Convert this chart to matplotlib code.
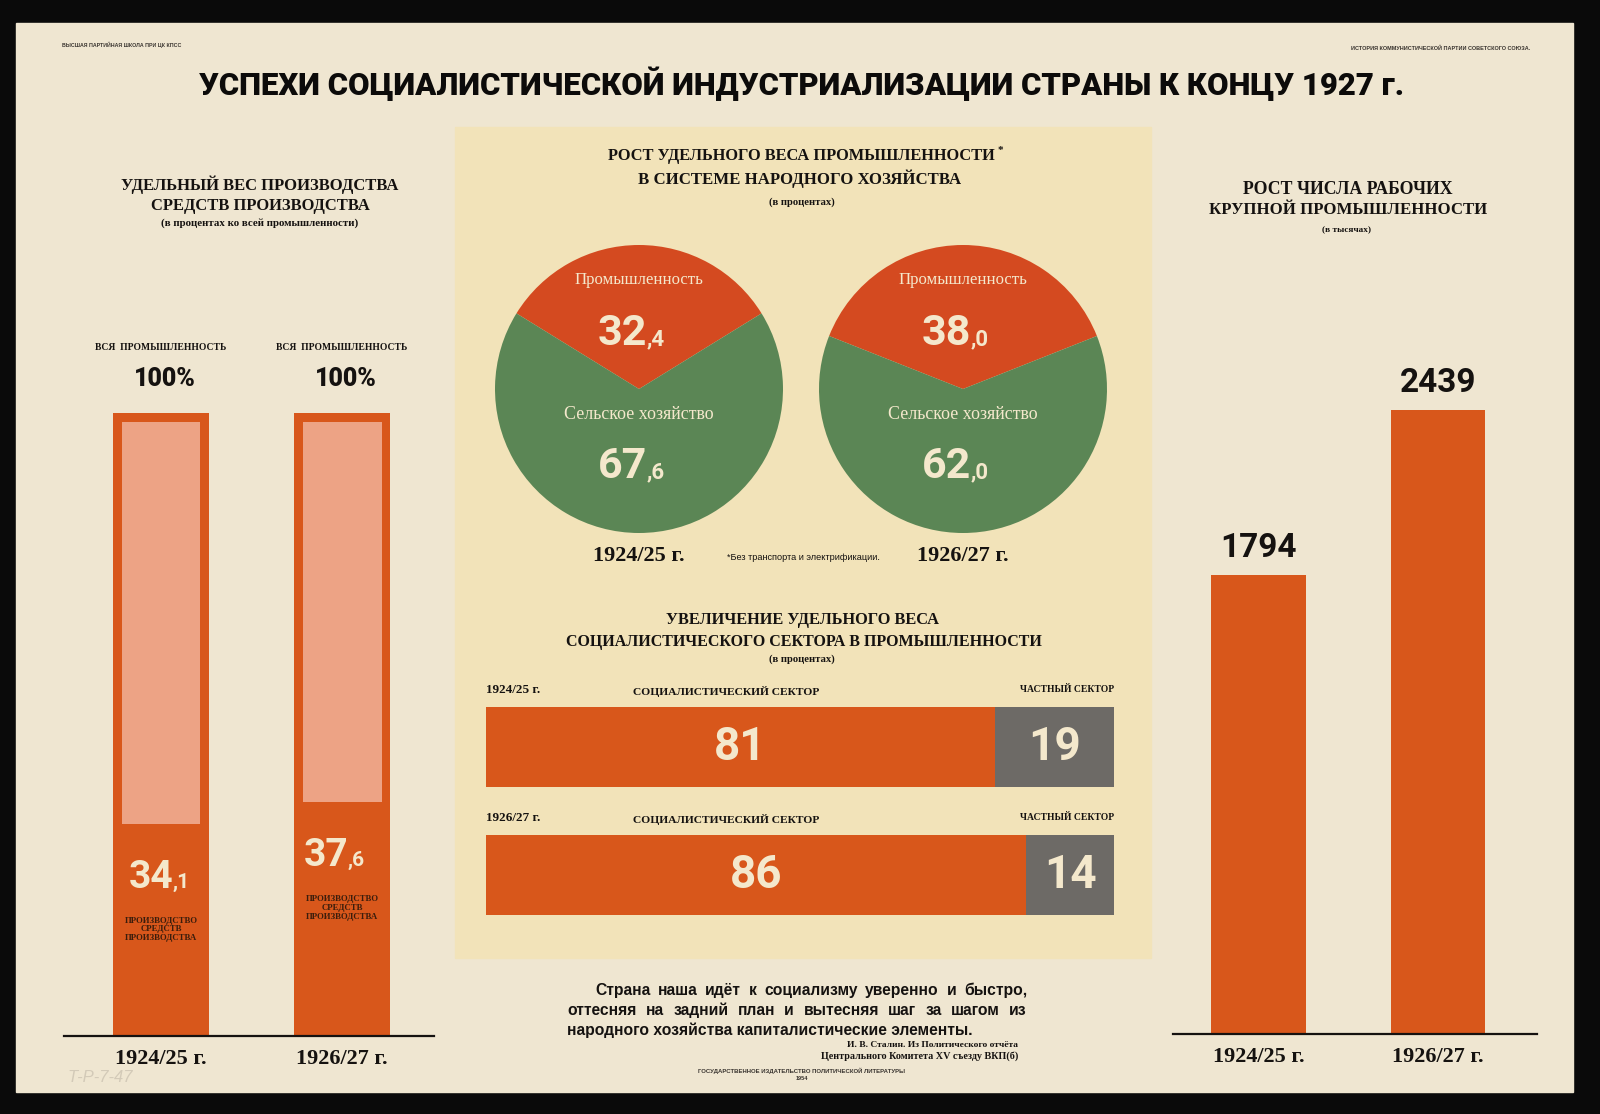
import matplotlib
matplotlib.use("Agg")
import matplotlib.pyplot as plt
from matplotlib.patches import Rectangle
from matplotlib.transforms import offset_copy

W, H = 1600, 1114

years = ["1924/25 г.", "1926/27 г."]
all_industry = [100, 100]              # вся промышленность, %
means_of_production = [34.1, 37.6]     # производство средств производства, %
industry_share = [32.4, 38.0]          # промышленность, %
agriculture_share = [67.6, 62.0]       # сельское хозяйство, %
socialist_sector = [81, 86]            # %
private_sector = [19, 14]              # %
workers = [1794, 2439]                 # тыс. рабочих

quote = ["Страна наша идёт к социализму уверенно и быстро,",
         "оттесняя на задний план и вытесняя шаг за шагом из",
         "народного хозяйства капиталистические элементы."]

PAPER = "#efe6d1"
PANEL = "#f2e3b9"
ORANGE = "#d8571b"
LIGHT = "#eda385"
RED = "#d44a20"
GREEN = "#5b8655"
GRAY = "#6d6a66"
CREAM = "#f4e8cc"
INK = "#151210"

COND = ["Roboto", "DejaVu Sans"]
SERIF = ["Liberation Serif", "DejaVu Serif"]
SANS = ["Liberation Sans", "DejaVu Sans"]

fig = plt.figure(figsize=(W / 100, H / 100), dpi=100, facecolor="#0a0a0a")
renderer = fig.canvas.get_renderer()


def px_axes(x0, y0, x1, y1):
    ax = fig.add_axes([x0 / W, 1 - y1 / H, (x1 - x0) / W, (y1 - y0) / H])
    ax.set_facecolor("none")
    return ax


def txt(ax, x, y, s, size, width=None, family=SERIF, weight="bold", color=INK,
        ha="center", va="center", **kw):
    t = ax.text(x, y, s, fontsize=size, family=family, weight=weight, color=color,
                ha=ha, va=va, **kw)
    if width:
        w = t.get_window_extent(renderer).width
        t.set_fontsize(size * width / w)
    return t


def justified(ax, x0, x1, y, line, size, **kw):
    """lay the words of one line out edge to edge between x0 and x1 (pixels), on a baseline."""
    words = [txt(ax, 0, y, w, size, ha="left", va="baseline", **kw) for w in line.split()]
    widths = [w.get_window_extent(renderer).width for w in words]
    gap = (x1 - x0 - sum(widths)) / (len(words) - 1)
    x = x0
    for w, wd in zip(words, widths):
        w.set_x(x)
        x += wd + gap


def decimal_label(ax, x, y, value, big, small, dx, color):
    """big whole part + small ',d' tail, split point shifted dx pixels right of x."""
    whole, frac = f"{value:.1f}".split(".")
    tr = offset_copy(ax.transData, fig=fig, x=dx, y=0, units="dots")
    ax.text(x, y, whole, transform=tr, ha="right", va="baseline", fontsize=big,
            family=COND, weight="bold", color=color, clip_on=False)
    ax.text(x, y, "," + frac, transform=tr, ha="left", va="baseline", fontsize=small,
            family=COND, weight="bold", color=color, clip_on=False)


# ---- background: paper + centre panel ----
bg = px_axes(0, 0, W, H)
bg.set_xlim(0, W); bg.set_ylim(H, 0); bg.axis("off")
bg.add_patch(Rectangle((16, 23), 1557, 1069, color=PAPER, zorder=0))
bg.add_patch(Rectangle((455, 127), 696, 831, color=PANEL, zorder=0.5))

txt(bg, 62, 45, "ВЫСШАЯ ПАРТИЙНАЯ ШКОЛА ПРИ ЦК КПСС", 5, width=120, family=SANS, ha="left",
    color="#3a3530")
txt(bg, 1530, 48, "ИСТОРИЯ КОММУНИСТИЧЕСКОЙ ПАРТИИ СОВЕТСКОГО СОЮЗА.", 5, width=182,
    family=SANS, ha="right", color="#3a3530")
txt(bg, 802, 84, "УСПЕХИ СОЦИАЛИСТИЧЕСКОЙ ИНДУСТРИАЛИЗАЦИИ СТРАНЫ К КОНЦУ 1927 г.", 40,
    width=1203, family=COND, weight="black", color="#0c0b0a")

# left block titles
txt(bg, 260, 185, "УДЕЛЬНЫЙ ВЕС ПРОИЗВОДСТВА", 14, width=280)
txt(bg, 260, 206, "СРЕДСТВ ПРОИЗВОДСТВА", 14, width=220)
txt(bg, 260, 223, "(в процентах ко всей промышленности)", 8, width=197)

# centre titles
txt(bg, 801, 156, "РОСТ УДЕЛЬНОГО ВЕСА ПРОМЫШЛЕННОСТИ", 14, width=389)
txt(bg, 1000, 150, "*", 8)
txt(bg, 800, 179, "В СИСТЕМЕ НАРОДНОГО ХОЗЯЙСТВА", 14, width=323)
txt(bg, 802, 202, "(в процентах)", 7, width=66)
txt(bg, 803, 558, "*Без транспорта и электрификации.", 6, width=154, family=SANS,
    weight="normal")
txt(bg, 802, 620, "УВЕЛИЧЕНИЕ УДЕЛЬНОГО ВЕСА", 14, width=276)
txt(bg, 804, 642, "СОЦИАЛИСТИЧЕСКОГО СЕКТОРА В ПРОМЫШЛЕННОСТИ", 14, width=480)
txt(bg, 802, 659, "(в процентах)", 7, width=66)

# right block titles
txt(bg, 1348, 190, "РОСТ ЧИСЛА РАБОЧИХ", 14, width=210)
txt(bg, 1348, 210, "КРУПНОЙ ПРОМЫШЛЕННОСТИ", 14, width=278)
txt(bg, 1347, 230, "(в тысячах)", 6, width=49)

# quote (justified like the print)
q = txt(bg, 567, 1035, quote[2], 12, width=403, family=SANS, ha="left", va="baseline")
qs = q.get_fontsize()
justified(bg, 595, 1027, 995, quote[0], qs, family=SANS)
justified(bg, 567, 1027, 1015, quote[1], qs, family=SANS)
txt(bg, 1018, 1045, "И. В. Сталин. Из Политического отчёта", 7, width=173, ha="right")
txt(bg, 1018, 1056, "Центрального Комитета XV съезду ВКП(б)", 7, width=200, ha="right")
txt(bg, 802, 1071, "ГОСУДАРСТВЕННОЕ ИЗДАТЕЛЬСТВО ПОЛИТИЧЕСКОЙ ЛИТЕРАТУРЫ", 4, width=205,
    family=SANS, color="#3a3530")
txt(bg, 802, 1078, "1954", 4, family=SANS, color="#3a3530")
txt(bg, 100, 1077, "Т-Р-7-47", 12, family=SANS, weight="normal", color="#d3cab8",
    style="italic")

# ---- left: share of means of production ----
lb = px_axes(64, 413, 434, 1036)
lb.set_xlim(-0.536, 1.508); lb.set_ylim(0, 100)
lb.bar([0, 1], all_industry, width=0.53, color=ORANGE)
lb.bar([0, 1], [a - m - 1.4 for a, m in zip(all_industry, means_of_production)],
       bottom=means_of_production, width=0.436, color=LIGHT)
for side in ("left", "right", "top"):
    lb.spines[side].set_visible(False)
lb.spines["bottom"].set_color(INK); lb.spines["bottom"].set_linewidth(1.6)
lb.set_yticks([])
lb.set_xticks([0, 1], years, fontsize=16, family=SERIF, weight="bold", color=INK)
lb.tick_params(axis="x", length=0, pad=9)
for i, v in enumerate(means_of_production):
    decimal_label(lb, i, v - 10.3, v, 28, 15, [12, 6][i], CREAM)
    lb.text(i, v - 17, "ПРОИЗВОДСТВО\nСРЕДСТВ\nПРОИЗВОДСТВА", fontsize=6.3, family=SERIF,
            weight="bold", color="#3b1d0c", ha="center", va="center", linespacing=1.15)
    txt(lb, i, 110.5, "ВСЯ  ПРОМЫШЛЕННОСТЬ", 8, width=131, clip_on=False)
    lb.text(i + 0.02, 105.5, f"{all_industry[i]}%", fontsize=18, family=COND, weight="black",
            color=INK, ha="center", va="center", clip_on=False)

# ---- centre: pies ----
for i, cx in enumerate([639, 963]):
    pa = px_axes(cx - 144, 389 - 144, cx + 144, 389 + 144)
    pa.pie([industry_share[i], agriculture_share[i]], colors=[RED, GREEN],
           startangle=90 - industry_share[i] * 1.8, radius=1,
           wedgeprops=dict(linewidth=0))
    pa.set_xlim(-1, 1); pa.set_ylim(-1, 1); pa.axis("off")
    txt(pa, 0, 0.757, "Промышленность", 12, width=128, weight="normal", color=CREAM)
    txt(pa, 0, -0.174, "Сельское хозяйство", 12, width=150, weight="normal", color=CREAM)
    decimal_label(pa, 0, 0.306, industry_share[i], 31, 16, 8, CREAM)
    decimal_label(pa, 0, -0.618, agriculture_share[i], 31, 16, 8, CREAM)
    txt(pa, 0, -1.16, years[i], 16)

# ---- centre: socialist vs private sector ----
hb = px_axes(486, 707, 1114, 915)
hb.set_xlim(0, 100); hb.set_ylim(1.309, -0.316); hb.axis("off")
soc = hb.barh([0, 1], socialist_sector, height=0.625, color=ORANGE)
prv = hb.barh([0, 1], private_sector, left=socialist_sector, height=0.625, color=GRAY)
for bars in (soc, prv):
    hb.bar_label(bars, label_type="center", fontsize=33, family=COND, weight="bold",
                 color=CREAM)
for r in range(2):
    txt(hb, 0, r - 0.45, years[r], 10, width=54, ha="left", clip_on=False)
    txt(hb, 38.2, r - 0.44, "СОЦИАЛИСТИЧЕСКИЙ СЕКТОР", 7, width=188, clip_on=False)
    txt(hb, 100, r - 0.45, "ЧАСТНЫЙ СЕКТОР", 7, width=95, ha="right", clip_on=False)

# ---- right: number of workers ----
rb = px_axes(1173, 369, 1537, 1034)
rb.set_xlim(-0.48, 1.553); rb.set_ylim(0, 2600)
wb = rb.bar([0, 1], workers, width=0.53, color=ORANGE)
rb.bar_label(wb, padding=8, fontsize=24, family=COND, weight="bold", color=INK)
for side in ("left", "right", "top"):
    rb.spines[side].set_visible(False)
rb.spines["bottom"].set_color(INK); rb.spines["bottom"].set_linewidth(1.6)
rb.set_yticks([])
rb.set_xticks([0, 1], years, fontsize=16, family=SERIF, weight="bold", color=INK)
rb.tick_params(axis="x", length=0, pad=9)

fig.savefig("out.png", dpi=100, facecolor=fig.get_facecolor())
